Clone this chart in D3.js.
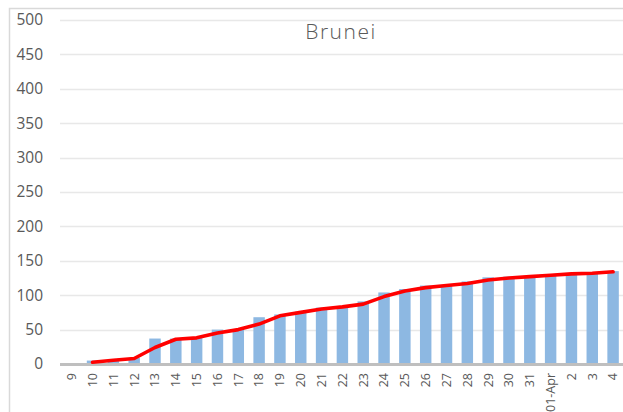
<!DOCTYPE html>
<html><head><meta charset="utf-8">
<script src="https://cdn.jsdelivr.net/npm/d3@7"></script>
<style>html,body{margin:0;padding:0;background:#fff;overflow:hidden}</style>
</head><body><div id="chart"></div>
<script>
const categories = ["9","10","11","12","13","14","15","16","17","18","19","20","21","22","23","24","25","26","27","28","29","30","31","01-Apr","2","3","4"];
const barValues = [0,5,6,9,37,37,38,50,50,68,72,76,82,83,91,104,109,114,115,120,126,127,127,129,131,133,135];
const lineValues = [null,2.5,5.5,8,24,36,38,45,50,58,70,75,80,83,87,98,106,111,114,117,122,125,127,129,131,132,134];
const yTicks = [0,50,100,150,200,250,300,350,400,450,500];
const title = "Brunei";

const W = 623, H = 412;
const svg = d3.select("#chart").append("svg").attr("width", W).attr("height", H);
svg.append("rect").attr("x", 9.5).attr("y", 8.5).attr("width", 800).attr("height", 800)
  .attr("fill", "#fff").attr("stroke", "#d9d9d9").attr("stroke-width", 1.5);

const x = d3.scaleBand().domain(categories).range([61.3, 623.5]).padding(0);
const y = d3.scaleLinear().domain([0, 500]).range([364, 20]);

// gridlines
svg.append("g").selectAll("line").data(yTicks.filter(d => d > 0)).join("line")
  .attr("x1", 60).attr("x2", W).attr("y1", d => Math.round(y(d)) + 0.5).attr("y2", d => Math.round(y(d)) + 0.5)
  .attr("stroke", "#e8e8e8").attr("stroke-width", 1.4);

// y axis labels
const yAxis = d3.axisLeft(y).tickValues(yTicks).tickSize(0).tickPadding(0);
const yg = svg.append("g").attr("transform", "translate(43,0)").call(yAxis);
yg.select(".domain").remove();
yg.selectAll("text").attr("font-family", "Open Sans").attr("font-size", "15.5px").attr("fill", "#595959");

// bars
const bw = x.bandwidth() * 0.55;
svg.append("g").selectAll("rect").data(categories).join("rect")
  .attr("x", (d) => x(d) + x.bandwidth() / 2 - bw / 2)
  .attr("width", bw)
  .attr("y", (d, i) => y(barValues[i]))
  .attr("height", (d, i) => y(0) - y(barValues[i]))
  .attr("fill", "#8db8e2");

// x axis baseline
svg.append("line").attr("x1", 60).attr("x2", W).attr("y1", 364.5).attr("y2", 364.5)
  .attr("stroke", "#bfbfbf").attr("stroke-width", 3);

// x labels
const xAxis = d3.axisBottom(x).tickSize(0).tickPadding(0);
const xg = svg.append("g").attr("transform", "translate(0,368)").call(xAxis);
xg.select(".domain").remove();
xg.selectAll("text")
  .attr("font-family", "Open Sans").attr("font-size", "12.5px").attr("fill", "#595959")
  .attr("text-anchor", "end").attr("dy", "0.35em")
  .attr("transform", "rotate(-90) translate(-5,0)")
  .attr("x", 0).attr("y", 0);

// line
const pts = categories.map((c, i) => ({c, v: lineValues[i]})).filter(d => d.v !== null);
const line = d3.line().x(d => x(d.c) + x.bandwidth() / 2).y(d => y(d.v)).curve(d3.curveLinear);
svg.append("path").datum(pts).attr("d", line).attr("fill", "none")
  .attr("stroke", "#ff0000").attr("stroke-width", 3.6).attr("stroke-linejoin", "round").attr("stroke-linecap", "round");

// title
svg.append("text").attr("x", 341).attr("y", 38.5).attr("text-anchor", "middle")
  .attr("font-family", "Open Sans").attr("font-weight", 300).attr("font-size", "21px")
  .attr("letter-spacing", "1.5px").attr("fill", "#595959").text(title);
</script></body></html>
